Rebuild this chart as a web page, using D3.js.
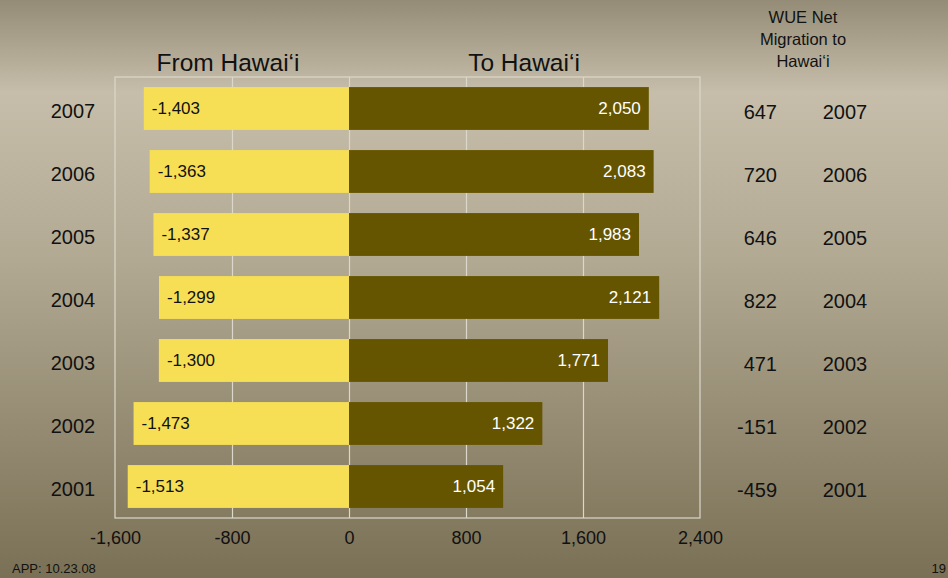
<!DOCTYPE html>
<html>
<head>
<meta charset="utf-8">
<script src="https://cdn.jsdelivr.net/npm/d3@7/dist/d3.min.js"></script>
<style>
  html, body { margin: 0; padding: 0; }
  svg { display: block; font-family: "Liberation Sans", Arial, sans-serif; }
</style>
</head>
<body>
<svg id="chart" width="948" height="578"></svg>
<script>
// Migration data, 2007 down to 2001
const years = ["2007", "2006", "2005", "2004", "2003", "2002", "2001"];
const fromHawaii = [-1403, -1363, -1337, -1299, -1300, -1473, -1513];
const toHawaii = [2050, 2083, 1983, 2121, 1771, 1322, 1054];
const netMigration = [647, 720, 646, 822, 471, -151, -459];
const xTicks = [-1600, -800, 0, 800, 1600, 2400];

const W = 948, H = 578;
const svg = d3.select("#chart");

// Number format with a plain hyphen for negatives
const locale = d3.formatLocale({ decimal: ".", thousands: ",", grouping: [3], currency: ["$", ""], minus: "-" });
const fmt = locale.format(",");

// Background gradient
const defs = svg.append("defs");
const grad = defs.append("linearGradient").attr("id", "bg").attr("x1", 0).attr("y1", 0).attr("x2", 0).attr("y2", 1);
grad.append("stop").attr("offset", "0%").attr("stop-color", "#958c77");
grad.append("stop").attr("offset", "16%").attr("stop-color", "#c6beaa");
grad.append("stop").attr("offset", "45%").attr("stop-color", "#b2a993");
grad.append("stop").attr("offset", "100%").attr("stop-color", "#7a7055");
svg.append("rect").attr("width", W).attr("height", H).attr("fill", "url(#bg)");

const plot = { left: 115, right: 700, top: 77, bottom: 518 };

const x = d3.scaleLinear().domain([-1600, 2400]).range([plot.left, plot.right]);
const y = d3.scaleBand().domain(years).range([plot.top, plot.bottom]).paddingInner(0.32).paddingOuter(0.16);

const gridColor = "#dcd7cb";

// Frame and vertical gridlines
svg.append("rect")
  .attr("x", plot.left).attr("y", plot.top)
  .attr("width", plot.right - plot.left).attr("height", plot.bottom - plot.top)
  .attr("fill", "none").attr("stroke", gridColor).attr("stroke-width", 1.2);
svg.append("g").selectAll("line").data(xTicks.slice(1, -1)).join("line")
  .attr("x1", d => Math.round(x(d)) + 0.5).attr("x2", d => Math.round(x(d)) + 0.5)
  .attr("y1", plot.top).attr("y2", plot.bottom)
  .attr("stroke", gridColor).attr("stroke-width", 1.2);

// Bars
const rows = years.map((yr, i) => ({ yr, from: fromHawaii[i], to: toHawaii[i], net: netMigration[i] }));

svg.append("g").selectAll("rect").data(rows).join("rect")
  .attr("x", d => x(d.from)).attr("width", d => x(0) - x(d.from))
  .attr("y", d => y(d.yr)).attr("height", y.bandwidth())
  .attr("fill", "#f7df55");
svg.append("g").selectAll("rect").data(rows).join("rect")
  .attr("x", x(0)).attr("width", d => x(d.to) - x(0))
  .attr("y", d => y(d.yr)).attr("height", y.bandwidth())
  .attr("fill", "#655500");

// Bar value labels
svg.append("g").selectAll("text").data(rows).join("text")
  .attr("x", d => x(d.from) + 8)
  .attr("y", d => y(d.yr) + y.bandwidth() / 2)
  .attr("dy", "0.35em").attr("font-size", 17).attr("fill", "#111")
  .text(d => fmt(d.from));
svg.append("g").selectAll("text").data(rows).join("text")
  .attr("x", d => x(d.to) - 8)
  .attr("y", d => y(d.yr) + y.bandwidth() / 2)
  .attr("dy", "0.35em").attr("font-size", 17).attr("fill", "#ffffff")
  .attr("text-anchor", "end")
  .text(d => fmt(d.to));

// Year labels, left side
svg.append("g").selectAll("text").data(rows).join("text")
  .attr("x", 73).attr("y", d => y(d.yr) + y.bandwidth() / 2 + 2)
  .attr("dy", "0.35em").attr("text-anchor", "middle").attr("font-size", 20).attr("fill", "#111")
  .text(d => d.yr);

// Net migration column and year labels, right side
svg.append("g").selectAll("text").data(rows).join("text")
  .attr("x", 777).attr("y", d => y(d.yr) + y.bandwidth() / 2 + 3)
  .attr("dy", "0.35em").attr("text-anchor", "end").attr("font-size", 20).attr("fill", "#111")
  .text(d => fmt(d.net));
svg.append("g").selectAll("text").data(rows).join("text")
  .attr("x", 845).attr("y", d => y(d.yr) + y.bandwidth() / 2 + 3)
  .attr("dy", "0.35em").attr("text-anchor", "middle").attr("font-size", 20).attr("fill", "#111")
  .text(d => d.yr);

// Column headings
svg.append("text").attr("x", 228).attr("y", 71).attr("text-anchor", "middle")
  .attr("font-size", 24.5).attr("fill", "#111").text("From Hawai\u2018i");
svg.append("text").attr("x", 524).attr("y", 71).attr("text-anchor", "middle")
  .attr("font-size", 24.5).attr("fill", "#111").text("To Hawai\u2018i");
const head = svg.append("text").attr("text-anchor", "middle").attr("font-size", 16.5).attr("fill", "#111");
["WUE Net", "Migration to", "Hawai\u2018i"].forEach((t, i) => {
  head.append("tspan").attr("x", 803).attr("y", 23 + i * 22).text(t);
});

// X axis tick labels
const xAxis = d3.axisBottom(x).tickValues(xTicks).tickFormat(fmt).tickSize(0).tickPadding(0);
const ax = svg.append("g").attr("transform", `translate(0,${plot.bottom})`).call(xAxis);
ax.select(".domain").remove();
ax.selectAll("text").attr("font-size", 18).attr("fill", "#111")
  .attr("font-family", "Liberation Sans, Arial, sans-serif").attr("dy", "1.45em");

// Footer
svg.append("text").attr("x", 12).attr("y", 573).attr("font-size", 13).attr("fill", "#111").text("APP: 10.23.08");
svg.append("text").attr("x", 946).attr("y", 573).attr("text-anchor", "end").attr("font-size", 13).attr("fill", "#111").text("19");
</script>
</body>
</html>
